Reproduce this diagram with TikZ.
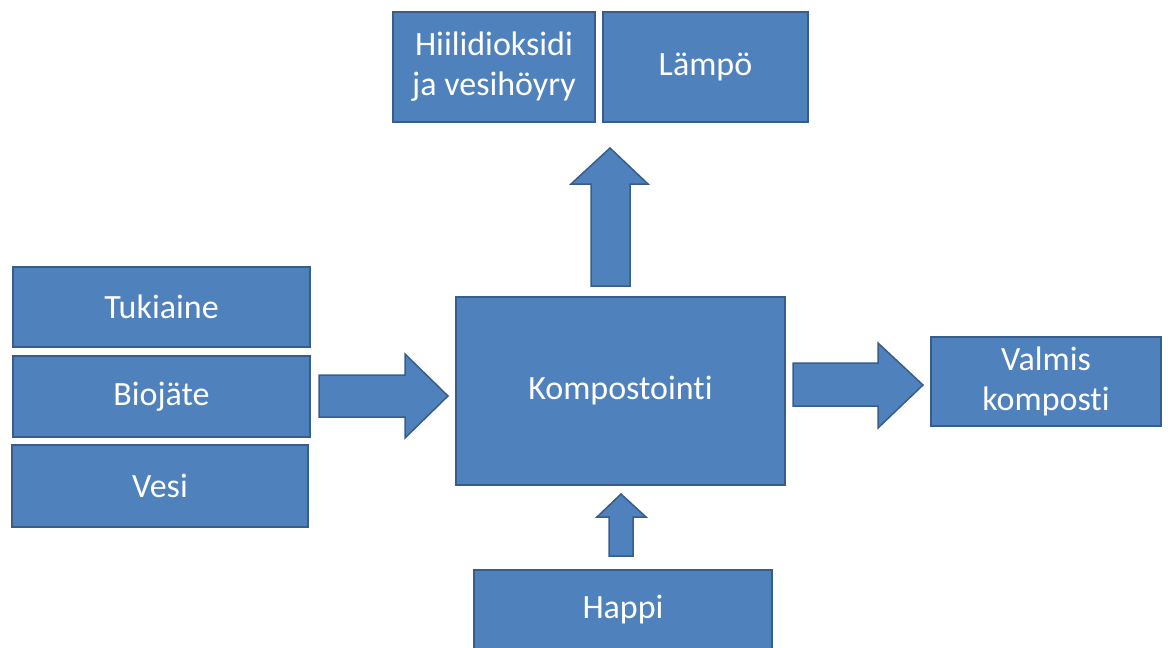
\documentclass[tikz,border=0pt]{standalone}
\usepackage{fontspec}
\setmainfont{Carlito}[Ligatures=NoCommon]
\definecolor{boxfill}{HTML}{4F81BD}
\definecolor{boxline}{HTML}{385D8A}
\tikzset{
  box/.style={draw=boxline, line width=1.5pt, fill=boxfill, text=white,
    inner sep=0pt, align=center, font=\fontsize{34}{40}\selectfont},
  blockarrow/.style={draw=boxline, line width=1.5pt, fill=boxfill, line join=miter}
}
\begin{document}
\begin{tikzpicture}[x=1pt,y=-1pt]
\useasboundingbox (0,0) rectangle (1168,648);
\node[box, minimum width=202pt, minimum height=110pt] (hii) at (494,67) {Hiilidioksidi\\ja vesihöyry};
\node[box, minimum width=205pt, minimum height=110pt] (lam) at (705.5,67) {Lämpö};
\node[box, minimum width=297pt, minimum height=80pt] (tuk) at (161.5,307) {Tukiaine};
\node[box, minimum width=297pt, minimum height=81pt] (bio) at (161.5,396.5) {Biojäte};
\node[box, minimum width=296pt, minimum height=82pt] (ves) at (160,486) {Vesi};
\node[box, minimum width=329pt, minimum height=188pt] (komp) at (620.5,391) {Kompostointi};
\node[box, minimum width=230pt, minimum height=89pt] (val) at (1046,381.5) {Valmis\\komposti};
\node[box, minimum width=298pt, minimum height=80pt] (hap) at (623,610) {Happi};
% input arrow
\draw[blockarrow] (319,375) -- (405,375) -- (405,354) -- (448,396) -- (405,438) -- (405,417) -- (319,417) -- cycle;
% output arrow
\draw[blockarrow] (793,363) -- (878,363) -- (878,343) -- (923,385) -- (878,428) -- (878,406) -- (793,406) -- cycle;
% top arrow
\draw[blockarrow] (591,286) -- (591,184) -- (571,184) -- (610,148) -- (648,184) -- (630,184) -- (630,286) -- cycle;
% bottom arrow
\draw[blockarrow] (609,556) -- (609,517) -- (597,517) -- (621,494) -- (646,517) -- (633,517) -- (633,556) -- cycle;
\end{tikzpicture}
\end{document}
